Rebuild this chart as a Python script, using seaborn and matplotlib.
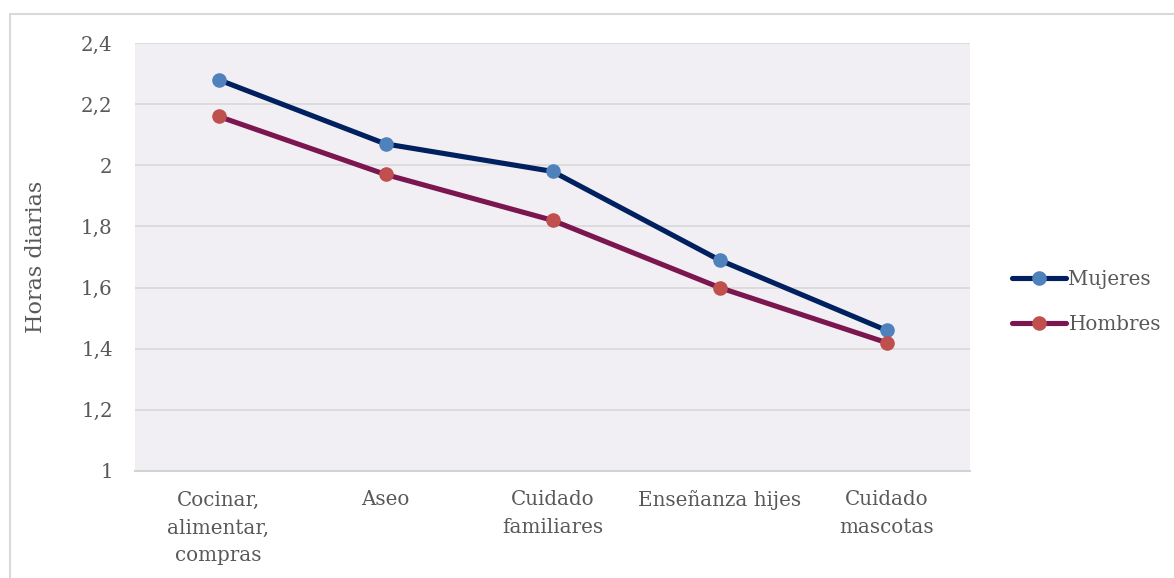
import matplotlib
matplotlib.use("Agg")
import matplotlib.pyplot as plt
from matplotlib.lines import Line2D
from matplotlib.ticker import FixedLocator, FuncFormatter
import pandas as pd
import seaborn as sns

# Daily hours spent on care tasks, by sex
categorias = [
    "Cocinar,\nalimentar,\ncompras",
    "Aseo",
    "Cuidado\nfamiliares",
    "Enseñanza hijes",
    "Cuidado\nmascotas",
]
mujeres = [2.28, 2.07, 1.98, 1.69, 1.46]
hombres = [2.16, 1.97, 1.82, 1.60, 1.42]
y_ticks = [1.0, 1.2, 1.4, 1.6, 1.8, 2.0, 2.2, 2.4]

series = [
    ("Mujeres", mujeres, "#002060", "#4F81BD"),
    ("Hombres", hombres, "#7B1650", "#C0504D"),
]

sns.set_theme(style="white")
plt.rcParams["font.family"] = ["DejaVu Serif"]

W, H = 1174, 578
FS = 14.3
LW = 3.7
fig = plt.figure(figsize=(W / 100, H / 100), dpi=100)
ax = fig.add_axes([135 / W, 1 - 471 / H, (970 - 135) / W, (471 - 43) / H])
ax.set_facecolor("#F1EFF3")

for nombre, valores, c_linea, c_marca in series:
    df = pd.DataFrame({"x": list(range(len(categorias))), "y": valores})
    sns.lineplot(
        data=df, x="x", y="y", ax=ax, color=c_linea, linewidth=LW,
        marker="o", markersize=10.5, markerfacecolor=c_marca,
        markeredgecolor=c_marca, markeredgewidth=0, zorder=3,
    )

ax.set_xlim(-0.5, len(categorias) - 0.5)
ax.set_ylim(1.0, 2.4)
ax.set_xticks(range(len(categorias)))
ax.set_xticklabels(categorias, linespacing=1.6)
ax.yaxis.set_major_locator(FixedLocator(y_ticks))
ax.yaxis.set_major_formatter(
    FuncFormatter(lambda v, _: (f"{v:.1f}".rstrip("0").rstrip(".")).replace(".", ","))
)

ax.grid(axis="y", color="#D9D9D9", linewidth=1.2)
ax.grid(axis="x", visible=False)
ax.set_axisbelow(True)
for s in ["top", "right", "left"]:
    ax.spines[s].set_visible(False)
ax.spines["bottom"].set_color("#D3D3D3")
ax.spines["bottom"].set_linewidth(1.5)

ax.tick_params(axis="both", length=0, labelsize=FS, labelcolor="#595959")
ax.tick_params(axis="y", pad=16)
ax.tick_params(axis="x", pad=14)
ax.set_xlabel("")
ax.set_ylabel("Horas diarias", fontsize=16, color="#595959")
ax.yaxis.set_label_coords(-(135 - 47) / (970 - 135), 0.5)

handles = [
    Line2D([], [], color=c_linea, linewidth=LW, marker="o", markersize=10.5,
           markerfacecolor=c_marca, markeredgewidth=0, label=nombre)
    for nombre, _, c_linea, c_marca in series
]
fig.legend(
    handles=handles, loc="center left", bbox_to_anchor=(994 / W, 1 - 302 / H),
    frameon=False, fontsize=FS, labelcolor="#595959", handlelength=2.7,
    handletextpad=0.15, labelspacing=1.35,
)

# Outer frame of the chart area
fig.add_artist(Line2D([10 / W, 10 / W], [0, 1 - 14 / H], transform=fig.transFigure,
                      color="#D9D9D9", linewidth=1.5))
fig.add_artist(Line2D([10 / W, 1], [1 - 14 / H, 1 - 14 / H], transform=fig.transFigure,
                      color="#D9D9D9", linewidth=1.5))

fig.savefig("out.png", dpi=100, facecolor="white")
